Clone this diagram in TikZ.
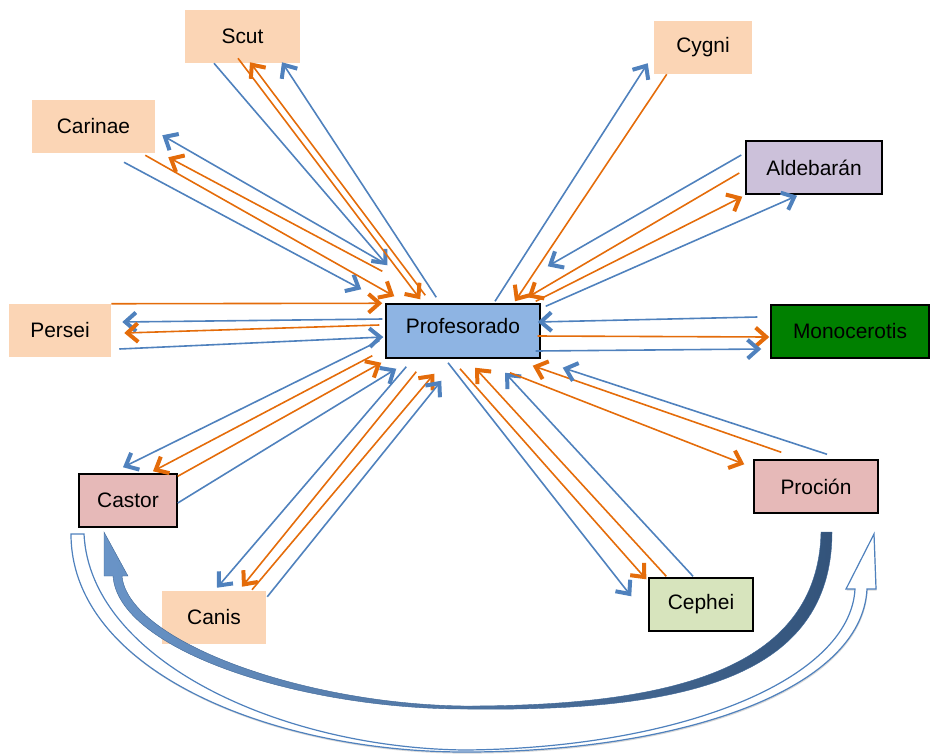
\documentclass[tikz,border=0pt]{standalone}
\usepackage{fontspec}
\setmainfont{Liberation Sans}
\usetikzlibrary{arrows.meta, shadows}
\definecolor{linkblue}{HTML}{4F81BD}
\definecolor{linkorange}{HTML}{E46C0A}
\definecolor{peach}{HTML}{FBD5B5}
\definecolor{profblue}{HTML}{8EB4E3}
\definecolor{lavender}{HTML}{CCC1DA}
\definecolor{rosebox}{HTML}{E6B9B8}
\definecolor{sage}{HTML}{D7E4BD}
\definecolor{monogreen}{HTML}{008000}
\tikzset{constel/.style={rectangle, fill=peach, minimum height=39.75pt, inner sep=0pt, font=\fontsize{15.7}{18}\selectfont},
    framedbox/.style={constel, draw=black, line width=1.1pt},
    bline/.style={draw=linkblue, line width=1.2pt, -{Straight Barb[length=8pt,width=14pt,line width=3pt]}},
    oline/.style={draw=linkorange, line width=1.2pt, -{Straight Barb[length=8pt,width=14pt,line width=3pt]}}}

\begin{document}
\begin{tikzpicture}[x=0.75pt, y=-0.75pt]
    \useasboundingbox (0,0) rectangle (930,754);
    % constellations
    \node[framedbox, fill=profblue, minimum width=115.5pt, minimum height=40.5pt, text height=11.5pt, text depth=7.5pt] (prof) at (463,331) {Profesorado};
    \node[constel, minimum width=86.25pt] (scut) at (242.5,36.5) {Scut};
    \node[constel, minimum width=92.25pt] (carinae) at (93.5,126.5) {Carinae};
    \node[constel, minimum width=76.5pt] (persei) at (60,330.5) {Persei};
    \node[constel, minimum width=73.5pt] (cygni) at (703,47.5) {Cygni};
    \node[framedbox, fill=lavender, minimum width=102pt] (aldeb) at (814,167.5) {Aldebarán};
    \node[framedbox, fill=monogreen, minimum width=118.5pt] (mono) at (850,331.5) {Monocerotis};
    \node[framedbox, fill=rosebox, minimum width=73.5pt] (castor) at (128,500.5) {Castor};
    \node[constel, minimum width=78pt] (canis) at (214,617.5) {Canis};
    \node[framedbox, fill=rosebox, minimum width=93pt] (procion) at (816,486.5) {Proción};
    \node[framedbox, fill=sage, minimum width=78pt] (cephei) at (701,604.5) {Cephei};

    % Scut
    \draw[bline] ([shift={(-28.5,0)}]scut.south) -- ([shift={(2,-38)}]prof.north west);
    \draw[oline] ([shift={(40,-8)}]prof.north west) -- ([shift={(7.5,-1)}]scut.south);
    \draw[oline] ([shift={(-4.5,-5)}]scut.south) -- ([shift={(35,-4)}]prof.north west);
    \draw[bline] ([shift={(51,-6)}]prof.north west) -- ([shift={(39.5,-1)}]scut.south);
    % Carinae
    \draw[bline] ([shift={(30.5,9)}]carinae.south) -- ([shift={(-24,-14)}]prof.north west);
    \draw[oline] ([shift={(-10,2)}]carinae.south east) -- ([shift={(9,-7)}]prof.north west);
    \draw[oline] ([shift={(-3,-32)}]prof.north west) -- ([shift={(13,4)}]carinae.south east);
    \draw[bline] ([shift={(1,-39)}]prof.north west) -- ([shift={(7,-18)}]carinae.south east);
    % Persei
    \draw[oline] (persei.north east) -- ([shift={(-3,0)}]prof.north west);
    \draw[bline] ([shift={(-3,-12)}]prof.west) -- ([shift={(11,-8.5)}]persei.east);
    \draw[oline] ([shift={(-6,-6)}]prof.west) -- ([shift={(13,2.5)}]persei.east);
    \draw[bline] ([shift={(8,18.5)}]persei.east) -- ([shift={(-2,6)}]prof.west);
    % Cygni
    \draw[bline] ([shift={(32,-2)}]prof.north) -- ([shift={(-6,-11)}]cygni.south west);
    \draw[oline] ([shift={(13,0)}]cygni.south west) -- ([shift={(52,-2)}]prof.north);
    % Aldebaran
    \draw[bline] ([shift={(-4,-12.5)}]aldeb.west) -- ([shift={(7,-37)}]prof.north east);
    \draw[oline] ([shift={(-6,5.5)}]aldeb.west) -- ([shift={(-13,-6)}]prof.north east);
    \draw[oline] ([shift={(-5,-2)}]prof.north east) -- ([shift={(-3,2)}]aldeb.south west);
    \draw[bline] ([shift={(5,3)}]prof.north east) -- ([shift={(-17,1)}]aldeb.south);
    % Monocerotis
    \draw[bline] ([shift={(-13,-14.5)}]mono.west) -- ([shift={(-3,-9)}]prof.east);
    \draw[oline] ([shift={(-3,5)}]prof.east) -- ([shift={(-1,5.5)}]mono.west);
    \draw[bline] ([shift={(-5,20)}]prof.east) -- ([shift={(-9,17.5)}]mono.west);
    % Castor
    \draw[bline] ([shift={(-6,-18)}]prof.south west) -- ([shift={(-5,-6)}]castor.north);
    \draw[oline] ([shift={(-13,-3)}]prof.south west) -- ([shift={(25,-2)}]castor.north);
    \draw[oline] ([shift={(0,3)}]castor.north east) -- ([shift={(-4,4)}]prof.south west);
    \draw[bline] ([shift={(0,2.5)}]castor.east) -- ([shift={(11,10)}]prof.south west);
    % Canis
    \draw[bline] ([shift={(21,8)}]prof.south west) -- ([shift={(3,-3)}]canis.north);
    \draw[oline] ([shift={(31,13)}]prof.south west) -- ([shift={(28,-4)}]canis.north);
    \draw[oline] ([shift={(38,-1)}]canis.north) -- ([shift={(49,15)}]prof.south west);
    \draw[bline] ([shift={(1,6)}]canis.north east) -- ([shift={(56,22)}]prof.south west);
    % Cephei
    \draw[bline] ([shift={(-15,4)}]prof.south) -- ([shift={(-17,19)}]cephei.north west);
    \draw[oline] ([shift={(-3,10)}]prof.south) -- ([shift={(-2,2)}]cephei.north west);
    \draw[oline] ([shift={(18,-1)}]cephei.north west) -- ([shift={(12,9)}]prof.south);
    \draw[bline] ([shift={(-8,-1)}]cephei.north) -- ([shift={(42,14)}]prof.south);
    % Procion
    \draw[oline] ([shift={(47,14)}]prof.south) -- ([shift={(-9,5)}]procion.north west);
    \draw[oline] ([shift={(28,-7)}]procion.north west) -- ([shift={(-8,7)}]prof.south east);
    \draw[bline] ([shift={(11,-5)}]procion.north) -- ([shift={(22,9)}]prof.south east);

    % curved arrows below
    \draw[linkblue, line width=0.9pt, fill=white,
        drop shadow={shadow xshift=0.5pt, shadow yshift=-1.2pt, opacity=0.3}]
        (71,534) -- (84,534) .. controls (90,660) and (280,748) .. (465,750)
        .. controls (680,748) and (850,680) .. (855,589) -- (846,589) -- (874,534) -- (876,589) -- (867,589)
        .. controls (862,690) and (680,752) .. (465,752)
        .. controls (270,752) and (71,670) .. (71,534) -- cycle;
    \shade[left color=linkblue!85!white, right color=linkblue!65!black, draw=linkblue!80!black, line width=0.3pt]
        (821,532) -- (832,532) .. controls (832,680) and (680,712) .. (465,709)
        .. controls (300,709) and (118,650) .. (113,576) -- (104,576) -- (104,532) -- (128,576) -- (122,576)
        .. controls (128,640) and (300,704) .. (465,706)
        .. controls (670,706) and (818,670) .. (821,532) -- cycle;
\end{tikzpicture}
\end{document}
